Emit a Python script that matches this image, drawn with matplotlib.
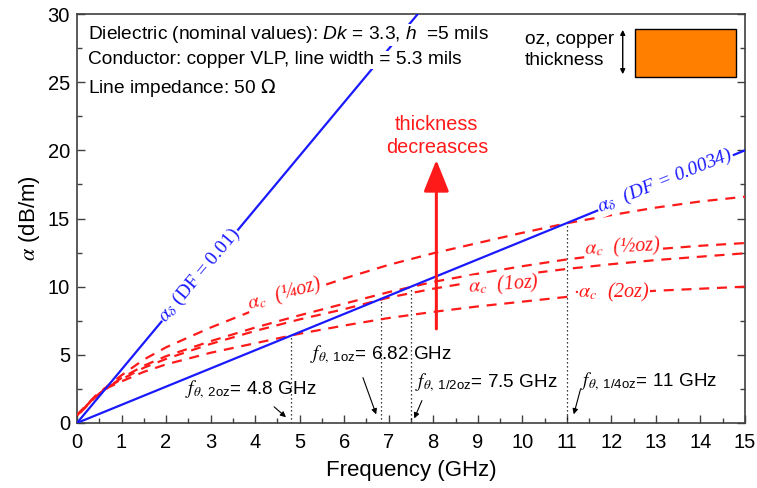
import matplotlib
matplotlib.use('Agg')
import matplotlib.pyplot as plt
import numpy as np
from matplotlib.patches import Rectangle
from matplotlib.ticker import MultipleLocator

plt.rcParams['font.family'] = ['Liberation Sans', 'DejaVu Sans']
plt.rcParams['mathtext.fontset'] = 'custom'
plt.rcParams['mathtext.rm'] = 'Liberation Sans'
plt.rcParams['mathtext.it'] = 'Liberation Sans:italic'

# conductor loss curves (dB/m) vs frequency (GHz), one per copper weight
freq = [0, 0.4, 0.7, 1, 1.5, 2, 3, 4, 5, 6, 7, 8, 9, 10, 11, 12, 13, 14, 15]
ac_quarter = [0.6, 1.95, 2.75, 3.5, 4.65, 5.55, 7.0, 8.3, 9.5, 10.6, 11.6, 12.45, 13.2, 13.95, 14.65, 15.25, 15.8, 16.25, 16.6]
ac_half = [0.55, 1.9, 2.65, 3.3, 4.2, 4.9, 6.0, 7.0, 7.9, 8.75, 9.6, 10.35, 10.95, 11.5, 12.0, 12.4, 12.75, 13.0, 13.2]
ac_one = [0.55, 1.9, 2.65, 3.2, 4.05, 4.7, 5.8, 6.75, 7.6, 8.35, 9.2, 9.85, 10.4, 10.9, 11.3, 11.65, 11.95, 12.2, 12.45]
ac_two = [0.5, 1.85, 2.6, 3.05, 3.75, 4.3, 5.15, 5.85, 6.55, 7.15, 7.7, 8.15, 8.55, 8.9, 9.25, 9.5, 9.7, 9.85, 10.0]

# dielectric loss, linear in frequency
f_d = [0, 15]
ad_0034 = [0, 20.0]
ad_001 = [0, 58.8]

# crossover frequencies where conductor loss equals dielectric loss (DF = 0.0034)
f_theta = [4.8, 6.82, 7.5, 11]
theta_sub = ['2oz', '1oz', '1/2oz', '1/4oz']

fig = plt.figure(figsize=(7.57, 4.88), dpi=100)
ax = fig.add_axes([0.1017, 0.1332, 0.8824, 0.8381])

for vals, off in zip([ac_quarter, ac_half, ac_one, ac_two], [0, 2, 4, 6]):
    ax.plot(freq, vals, color='#ff1a1a', lw=1.6, linestyle=(off, (4.5, 3.5)), zorder=3)

ax.plot(f_d, ad_0034, color='#1a1aff', lw=1.6, zorder=4)
ax.plot(f_d, ad_001, color='#1a1aff', lw=1.6, zorder=4)

# dotted markers at each crossover
for ft in f_theta:
    ax.plot([ft, ft], [0, np.interp(ft, f_d, ad_0034)], color='black', lw=0.9,
            linestyle=(0, (1, 2.2)), zorder=2)

white = dict(facecolor='white', edgecolor='none', pad=0.3)
ax.text(2.76, 10.8, r'$\alpha_\delta$ (DF = 0.01)', color='#1a1aff', fontsize=14,
        family='Liberation Serif', math_fontfamily='stix', rotation=50,
        rotation_mode='anchor', ha='center', va='center', bbox=white, zorder=5)
ax.text(13.2, 17.75, r'$\alpha_\delta$  (DF = 0.0034)', color='#1a1aff', fontsize=14,
        family='Liberation Serif', style='italic', math_fontfamily='stix', rotation=22,
        rotation_mode='anchor', ha='center', va='center', bbox=white, zorder=5)

red_lbl = dict(color='#ff1a1a', fontsize=14.5, family='Liberation Serif', style='italic',
               math_fontfamily='stix', ha='center', va='center', rotation_mode='anchor',
               bbox=white, zorder=5)
ax.text(4.65, 9.45, r'$\alpha_c$  (¼oz)', rotation=16, **red_lbl)
ax.text(12.25, 12.9, r'$\alpha_c$  (½oz)', rotation=3, **red_lbl)
ax.text(9.57, 10.1, r'$\alpha_c$  (1oz)', rotation=4, **red_lbl)
ax.text(12.0, 9.55, r'$\cdot\alpha_c$  (2oz)', **red_lbl)

# crossover annotations
txt_pos = [(2.43, 2.42), (5.23, 5.0), (7.59, 2.93), (11.3, 3.0)]
arr_from = [(4.38, 1.32), (6.40, 3.52), (7.77, 1.83), (11.32, 2.64)]
arr_to = [(4.74, 0.29), (6.74, 0.44), (7.55, 0.15), (11.14, 0.44)]
for ft, sub, tp, a0, a1 in zip(f_theta, theta_sub, txt_pos, arr_from, arr_to):
    ax.text(tp[0], tp[1], r'$f_{\theta,\ \mathregular{%s}}$' % sub + '= %g GHz' % ft,
            fontsize=13.6, math_fontfamily='stix', ha='left', va='center', zorder=6)
    ax.annotate('', xy=a1, xytext=a0,
                arrowprops=dict(arrowstyle='-|>', color='black', lw=0.8,
                                mutation_scale=8), zorder=6)

# thickness arrow
ax.annotate('', xy=(8.07, 19.5), xytext=(8.07, 6.7),
            arrowprops=dict(arrowstyle='-|>,head_length=1.5,head_width=0.6',
                            color='#ff1a1a', lw=2.2, mutation_scale=13), zorder=6)
ax.text(8.08, 21.05, 'thickness\ndecreasces', color='#ff1a1a', fontsize=14.3,
        ha='center', va='center', linespacing=1.3)

# header notes, masking the steep loss line behind them
hdr = dict(transform=ax.transAxes, fontsize=13.8, va='center', zorder=6,
           bbox=dict(facecolor='white', edgecolor='none', pad=0.5))
ax.text(0.0165, 0.949, 'Dielectric (nominal values): $Dk$ = 3.3, $h$  =5 mils', **hdr)
ax.text(0.0165, 0.888, 'Conductor: copper VLP, line width = 5.3 mils', **hdr)
ax.text(0.0165, 0.819, 'Line impedance: 50 $\\Omega$', math_fontfamily='dejavusans', **hdr)

ax.text(0.671, 0.912, 'oz, copper\nthickness', transform=ax.transAxes, fontsize=13.8,
        va='center', ha='left', linespacing=1.25)
ax.annotate('', xy=(0.817, 0.968), xytext=(0.817, 0.846), xycoords='axes fraction',
            arrowprops=dict(arrowstyle='<|-|>', color='black', lw=1.0, mutation_scale=7))
ax.add_patch(Rectangle((0.835, 0.8467), 0.151, 0.116, transform=ax.transAxes,
                       facecolor='#ff8000', edgecolor='black', lw=1.0, zorder=5))

ax.set_xlim(0, 15)
ax.set_ylim(0, 30)
ax.xaxis.set_major_locator(MultipleLocator(1))
ax.xaxis.set_minor_locator(MultipleLocator(0.5))
ax.yaxis.set_major_locator(MultipleLocator(5))
ax.yaxis.set_minor_locator(MultipleLocator(2.5))
ax.tick_params(which='both', direction='in', right=True, top=False, labelsize=14.5,
               color='#404040', width=1.0)
ax.tick_params(which='major', length=6)
ax.tick_params(axis='x', which='major', pad=7)
ax.tick_params(axis='y', which='major', pad=5)
ax.tick_params(which='minor', length=3.5)
for s in ax.spines.values():
    s.set_color('#404040')
    s.set_linewidth(1.2)

ax.set_xlabel('Frequency (GHz)', fontsize=16, labelpad=6)
ax.set_ylabel(r'$\alpha$ (dB/m)', fontsize=16, math_fontfamily='stix', labelpad=4)

fig.savefig('out.png', dpi=100)
